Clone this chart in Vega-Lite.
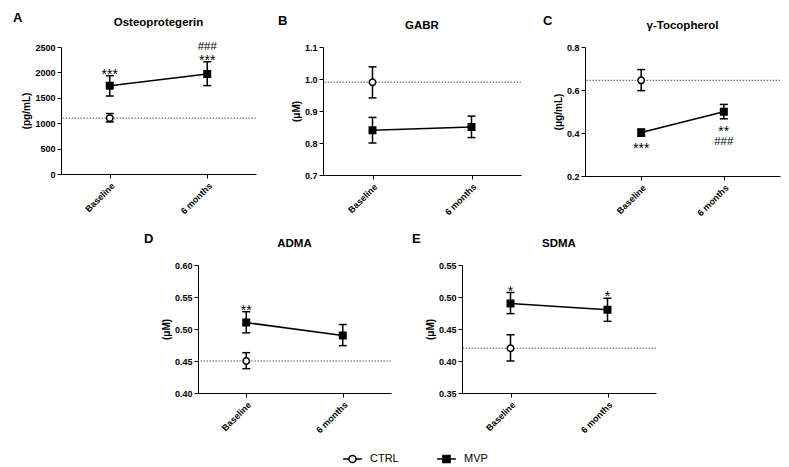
{
  "$schema": "https://vega.github.io/schema/vega-lite/v6.json",
  "padding": {"left": 12, "top": 12, "right": 5, "bottom": 5},
  "background": "white",
  "config": {
    "font": "Liberation Sans",
    "view": {"stroke": null},
    "axis": {"labelFont": "Liberation Sans", "labelFontWeight": "bold", "labelFontSize": 9, "labelColor": "black", "titleFont": "Liberation Sans", "titleFontSize": 10, "titleFontWeight": "bold", "titleColor": "black", "domainColor": "black", "tickColor": "black", "grid": false, "tickSize": 4, "labelPadding": 2, "titlePadding": 3, "labelOverlap": false},
    "axisX": {"labelAngle": -45, "title": null, "labelPadding": 3},
    "title": {"font": "Liberation Sans", "color": "black"}
  },
  "datasets": {
    "pts": [
      {"panel": "A", "group": "CTRL", "time": "Baseline", "mean": 1100, "lo": 1025, "hi": 1190},
      {"panel": "A", "group": "MVP", "time": "Baseline", "mean": 1735, "lo": 1535, "hi": 1935, "above1": "***"},
      {"panel": "A", "group": "MVP", "time": "6 months", "mean": 1970, "lo": 1740, "hi": 2210, "above1": "***", "above2": "###"},
      {"panel": "B", "group": "CTRL", "time": "Baseline", "mean": 0.99, "lo": 0.941, "hi": 1.038},
      {"panel": "B", "group": "MVP", "time": "Baseline", "mean": 0.84, "lo": 0.80, "hi": 0.88},
      {"panel": "B", "group": "MVP", "time": "6 months", "mean": 0.85, "lo": 0.817, "hi": 0.884},
      {"panel": "C", "group": "CTRL", "time": "Baseline", "mean": 0.645, "lo": 0.597, "hi": 0.695},
      {"panel": "C", "group": "MVP", "time": "Baseline", "mean": 0.402, "lo": 0.385, "hi": 0.418, "below1": "***"},
      {"panel": "C", "group": "MVP", "time": "6 months", "mean": 0.499, "lo": 0.466, "hi": 0.533, "below1": "**", "below2": "###"},
      {"panel": "D", "group": "CTRL", "time": "Baseline", "mean": 0.45, "lo": 0.438, "hi": 0.463},
      {"panel": "D", "group": "MVP", "time": "Baseline", "mean": 0.51, "lo": 0.494, "hi": 0.527, "above1": "**"},
      {"panel": "D", "group": "MVP", "time": "6 months", "mean": 0.49, "lo": 0.474, "hi": 0.507},
      {"panel": "E", "group": "CTRL", "time": "Baseline", "mean": 0.42, "lo": 0.40, "hi": 0.441},
      {"panel": "E", "group": "MVP", "time": "Baseline", "mean": 0.49, "lo": 0.474, "hi": 0.507, "above1": "*"},
      {"panel": "E", "group": "MVP", "time": "6 months", "mean": 0.48, "lo": 0.462, "hi": 0.498, "above1": "*"}
    ],
    "refs": [
      {"panel": "A", "value": 1100},
      {"panel": "B", "value": 0.99},
      {"panel": "C", "value": 0.645},
      {"panel": "D", "value": 0.45},
      {"panel": "E", "value": 0.42}
    ]
  },
  "resolve": {"scale": {"x": "independent", "y": "independent", "shape": "shared", "fill": "shared", "stroke": "shared"}},
  "center": false,
  "spacing": 14,
  "vconcat": [
    {
      "resolve": {"scale": {"x": "independent", "y": "independent", "shape": "shared", "fill": "shared", "stroke": "shared"}},
      "spacing": 20,
      "hconcat": [
        {
          "resolve": {"scale": {"shape": "shared", "fill": "shared", "stroke": "shared"}},
          "title": {"text": "A", "anchor": "start", "fontSize": 13, "fontWeight": "bold", "dx": -9, "dy": 12},
          "vconcat": [{
            "width": 195, "height": 127,
            "title": {"text": "Osteoprotegerin", "fontSize": 11.5, "fontWeight": "bold", "offset": 12},
            "layer": [
              {"data": {"name": "refs"}, "transform": [{"filter": "datum.panel === 'A'"}], "mark": {"type": "rule", "strokeDash": [1.5, 1.5], "color": "#555", "strokeWidth": 1}, "encoding": {"y": {"field": "value", "type": "quantitative", "title": "(pg/mL)", "scale": {"domain": [0, 2500], "nice": false, "zero": false}, "axis": {"values": [0, 500, 1000, 1500, 2000, 2500], "format": "d"}}}},
              {"data": {"name": "pts"}, "transform": [{"filter": "datum.panel === 'A'"}], "mark": {"type": "rule", "color": "black", "strokeWidth": 1.5}, "encoding": {"x": {"field": "time", "type": "ordinal", "sort": ["Baseline", "6 months"], "scale": {"type": "point", "padding": 0.5}}, "y": {"field": "lo", "type": "quantitative", "title": "(pg/mL)", "scale": {"domain": [0, 2500], "nice": false, "zero": false}, "axis": {"values": [0, 500, 1000, 1500, 2000, 2500], "format": "d"}}, "y2": {"field": "hi"}}},
              {"data": {"name": "pts"}, "transform": [{"filter": "datum.panel === 'A'"}], "mark": {"type": "tick", "color": "black", "thickness": 1.5, "size": 8, "opacity": 1}, "encoding": {"x": {"field": "time", "type": "ordinal", "sort": ["Baseline", "6 months"]}, "y": {"field": "lo", "type": "quantitative", "title": "(pg/mL)", "axis": {"values": [0, 500, 1000, 1500, 2000, 2500], "format": "d"}}}},
              {"data": {"name": "pts"}, "transform": [{"filter": "datum.panel === 'A'"}], "mark": {"type": "tick", "color": "black", "thickness": 1.5, "size": 8, "opacity": 1}, "encoding": {"x": {"field": "time", "type": "ordinal", "sort": ["Baseline", "6 months"]}, "y": {"field": "hi", "type": "quantitative", "title": "(pg/mL)", "axis": {"values": [0, 500, 1000, 1500, 2000, 2500], "format": "d"}}}},
              {"data": {"name": "pts"}, "transform": [{"filter": "datum.panel === 'A' && datum.group === 'MVP'"}], "mark": {"type": "line", "color": "black", "strokeWidth": 1.5}, "encoding": {"x": {"field": "time", "type": "ordinal", "sort": ["Baseline", "6 months"]}, "y": {"field": "mean", "type": "quantitative", "title": "(pg/mL)", "axis": {"values": [0, 500, 1000, 1500, 2000, 2500], "format": "d"}}}},
              {"data": {"name": "pts"}, "transform": [{"filter": "datum.panel === 'A'"}], "mark": {"type": "point", "filled": true, "stroke": "black", "strokeWidth": 1.5, "size": 42, "opacity": 1}, "encoding": {"x": {"field": "time", "type": "ordinal", "sort": ["Baseline", "6 months"]}, "y": {"field": "mean", "type": "quantitative", "title": "(pg/mL)", "axis": {"values": [0, 500, 1000, 1500, 2000, 2500], "format": "d"}}, "shape": {"condition": {"test": "datum.group === 'CTRL'", "value": "circle"}, "value": "square"}, "fill": {"condition": {"test": "datum.group === 'CTRL'", "value": "white"}, "value": "black"}}},
              {"data": {"name": "pts"}, "transform": [{"filter": "datum.panel === 'A' && datum.above1"}], "mark": {"type": "text", "fontSize": 14, "baseline": "bottom", "dy": 6, "color": "black"}, "encoding": {"x": {"field": "time", "type": "ordinal", "sort": ["Baseline", "6 months"]}, "y": {"field": "hi", "type": "quantitative", "title": "(pg/mL)", "axis": {"values": [0, 500, 1000, 1500, 2000, 2500], "format": "d"}}, "text": {"field": "above1"}}},
              {"data": {"name": "pts"}, "transform": [{"filter": "datum.panel === 'A' && datum.above2"}], "mark": {"type": "text", "fontSize": 11.5, "baseline": "bottom", "dy": -10, "color": "black"}, "encoding": {"x": {"field": "time", "type": "ordinal", "sort": ["Baseline", "6 months"]}, "y": {"field": "hi", "type": "quantitative", "title": "(pg/mL)", "axis": {"values": [0, 500, 1000, 1500, 2000, 2500], "format": "d"}}, "text": {"field": "above2"}}},
              {"data": {"name": "pts"}, "transform": [{"filter": "datum.panel === 'legend'"}], "mark": {"type": "point", "filled": false, "color": "black", "strokeWidth": 1.5, "opacity": 1}, "encoding": {"x": {"field": "time", "type": "ordinal", "sort": ["Baseline", "6 months"]}, "y": {"field": "mean", "type": "quantitative", "title": "(pg/mL)", "axis": {"values": [0, 500, 1000, 1500, 2000, 2500], "format": "d"}}, "shape": {"field": "group", "type": "nominal", "scale": {"domain": ["CTRL", "MVP"], "range": ["M-2.1,0H-0.8M0.8,0H2.1M0.8,0A0.8,0.8,0,1,1,-0.8,0A0.8,0.8,0,1,1,0.8,0Z", "M-2.1,0H2.1M-0.8,-0.8H0.8V0.8H-0.8Z"]}, "legend": {"title": null, "orient": "none", "legendX": 286, "legendY": 406, "direction": "horizontal", "labelFontSize": 11, "labelFont": "Liberation Sans", "labelColor": "black", "symbolStrokeWidth": 1.5, "symbolSize": 80, "labelOffset": 12, "columnPadding": 35}}, "fill": {"field": "group", "type": "nominal", "scale": {"domain": ["CTRL", "MVP"], "range": ["white", "black"]}, "legend": {"title": null, "orient": "none", "legendX": 286, "legendY": 406, "direction": "horizontal", "labelFontSize": 11, "labelFont": "Liberation Sans", "labelColor": "black", "symbolStrokeWidth": 1.5, "symbolSize": 80, "labelOffset": 12, "columnPadding": 35}}, "stroke": {"field": "group", "type": "nominal", "scale": {"domain": ["CTRL", "MVP"], "range": ["black", "black"]}, "legend": {"title": null, "orient": "none", "legendX": 286, "legendY": 406, "direction": "horizontal", "labelFontSize": 11, "labelFont": "Liberation Sans", "labelColor": "black", "symbolStrokeWidth": 1.5, "symbolSize": 80, "labelOffset": 12, "columnPadding": 35}}}}
            ]
          }]
        },
        {
          "title": {"text": "B", "anchor": "start", "fontSize": 13, "fontWeight": "bold", "dx": -13.5, "dy": 12},
          "vconcat": [{
            "width": 198, "height": 128,
            "title": {"text": "GABR", "fontSize": 11.5, "fontWeight": "bold", "offset": 12},
            "layer": [
              {"data": {"name": "refs"}, "transform": [{"filter": "datum.panel === 'B'"}], "mark": {"type": "rule", "strokeDash": [1.5, 1.5], "color": "#555", "strokeWidth": 1}, "encoding": {"y": {"field": "value", "type": "quantitative", "title": "(μM)", "scale": {"domain": [0.7, 1.1], "nice": false, "zero": false}, "axis": {"values": [0.7, 0.8, 0.9, 1.0, 1.1], "format": ".1f"}}}},
              {"data": {"name": "pts"}, "transform": [{"filter": "datum.panel === 'B'"}], "mark": {"type": "rule", "color": "black", "strokeWidth": 1.5}, "encoding": {"x": {"field": "time", "type": "ordinal", "sort": ["Baseline", "6 months"], "scale": {"type": "point", "padding": 0.5}}, "y": {"field": "lo", "type": "quantitative", "title": "(μM)", "scale": {"domain": [0.7, 1.1], "nice": false, "zero": false}, "axis": {"values": [0.7, 0.8, 0.9, 1.0, 1.1], "format": ".1f"}}, "y2": {"field": "hi"}}},
              {"data": {"name": "pts"}, "transform": [{"filter": "datum.panel === 'B'"}], "mark": {"type": "tick", "color": "black", "thickness": 1.5, "size": 8, "opacity": 1}, "encoding": {"x": {"field": "time", "type": "ordinal", "sort": ["Baseline", "6 months"]}, "y": {"field": "lo", "type": "quantitative", "title": "(μM)", "axis": {"values": [0.7, 0.8, 0.9, 1.0, 1.1], "format": ".1f"}}}},
              {"data": {"name": "pts"}, "transform": [{"filter": "datum.panel === 'B'"}], "mark": {"type": "tick", "color": "black", "thickness": 1.5, "size": 8, "opacity": 1}, "encoding": {"x": {"field": "time", "type": "ordinal", "sort": ["Baseline", "6 months"]}, "y": {"field": "hi", "type": "quantitative", "title": "(μM)", "axis": {"values": [0.7, 0.8, 0.9, 1.0, 1.1], "format": ".1f"}}}},
              {"data": {"name": "pts"}, "transform": [{"filter": "datum.panel === 'B' && datum.group === 'MVP'"}], "mark": {"type": "line", "color": "black", "strokeWidth": 1.5}, "encoding": {"x": {"field": "time", "type": "ordinal", "sort": ["Baseline", "6 months"]}, "y": {"field": "mean", "type": "quantitative", "title": "(μM)", "axis": {"values": [0.7, 0.8, 0.9, 1.0, 1.1], "format": ".1f"}}}},
              {"data": {"name": "pts"}, "transform": [{"filter": "datum.panel === 'B'"}], "mark": {"type": "point", "filled": true, "stroke": "black", "strokeWidth": 1.5, "size": 42, "opacity": 1}, "encoding": {"x": {"field": "time", "type": "ordinal", "sort": ["Baseline", "6 months"]}, "y": {"field": "mean", "type": "quantitative", "title": "(μM)", "axis": {"values": [0.7, 0.8, 0.9, 1.0, 1.1], "format": ".1f"}}, "shape": {"condition": {"test": "datum.group === 'CTRL'", "value": "circle"}, "value": "square"}, "fill": {"condition": {"test": "datum.group === 'CTRL'", "value": "white"}, "value": "black"}}}
            ]
          }]
        },
        {
          "title": {"text": "C", "anchor": "start", "fontSize": 13, "fontWeight": "bold", "dx": -10.5, "dy": 12},
          "vconcat": [{
            "width": 195, "height": 129,
            "title": {"text": "γ-Tocopherol", "fontSize": 11.5, "fontWeight": "bold", "offset": 12},
            "layer": [
              {"data": {"name": "refs"}, "transform": [{"filter": "datum.panel === 'C'"}], "mark": {"type": "rule", "strokeDash": [1.5, 1.5], "color": "#555", "strokeWidth": 1}, "encoding": {"y": {"field": "value", "type": "quantitative", "title": "(μg/mL)", "scale": {"domain": [0.2, 0.8], "nice": false, "zero": false}, "axis": {"values": [0.2, 0.4, 0.6, 0.8], "format": ".1f"}}}},
              {"data": {"name": "pts"}, "transform": [{"filter": "datum.panel === 'C'"}], "mark": {"type": "rule", "color": "black", "strokeWidth": 1.5}, "encoding": {"x": {"field": "time", "type": "ordinal", "sort": ["Baseline", "6 months"], "scale": {"type": "point", "padding": 0.68}}, "y": {"field": "lo", "type": "quantitative", "title": "(μg/mL)", "scale": {"domain": [0.2, 0.8], "nice": false, "zero": false}, "axis": {"values": [0.2, 0.4, 0.6, 0.8], "format": ".1f"}}, "y2": {"field": "hi"}}},
              {"data": {"name": "pts"}, "transform": [{"filter": "datum.panel === 'C'"}], "mark": {"type": "tick", "color": "black", "thickness": 1.5, "size": 8, "opacity": 1}, "encoding": {"x": {"field": "time", "type": "ordinal", "sort": ["Baseline", "6 months"]}, "y": {"field": "lo", "type": "quantitative", "title": "(μg/mL)", "axis": {"values": [0.2, 0.4, 0.6, 0.8], "format": ".1f"}}}},
              {"data": {"name": "pts"}, "transform": [{"filter": "datum.panel === 'C'"}], "mark": {"type": "tick", "color": "black", "thickness": 1.5, "size": 8, "opacity": 1}, "encoding": {"x": {"field": "time", "type": "ordinal", "sort": ["Baseline", "6 months"]}, "y": {"field": "hi", "type": "quantitative", "title": "(μg/mL)", "axis": {"values": [0.2, 0.4, 0.6, 0.8], "format": ".1f"}}}},
              {"data": {"name": "pts"}, "transform": [{"filter": "datum.panel === 'C' && datum.group === 'MVP'"}], "mark": {"type": "line", "color": "black", "strokeWidth": 1.5}, "encoding": {"x": {"field": "time", "type": "ordinal", "sort": ["Baseline", "6 months"]}, "y": {"field": "mean", "type": "quantitative", "title": "(μg/mL)", "axis": {"values": [0.2, 0.4, 0.6, 0.8], "format": ".1f"}}}},
              {"data": {"name": "pts"}, "transform": [{"filter": "datum.panel === 'C'"}], "mark": {"type": "point", "filled": true, "stroke": "black", "strokeWidth": 1.5, "size": 42, "opacity": 1}, "encoding": {"x": {"field": "time", "type": "ordinal", "sort": ["Baseline", "6 months"]}, "y": {"field": "mean", "type": "quantitative", "title": "(μg/mL)", "axis": {"values": [0.2, 0.4, 0.6, 0.8], "format": ".1f"}}, "shape": {"condition": {"test": "datum.group === 'CTRL'", "value": "circle"}, "value": "square"}, "fill": {"condition": {"test": "datum.group === 'CTRL'", "value": "white"}, "value": "black"}}},
              {"data": {"name": "pts"}, "transform": [{"filter": "datum.panel === 'C' && datum.below1"}], "mark": {"type": "text", "fontSize": 14, "baseline": "top", "dy": 6, "color": "black"}, "encoding": {"x": {"field": "time", "type": "ordinal", "sort": ["Baseline", "6 months"]}, "y": {"field": "lo", "type": "quantitative", "title": "(μg/mL)", "axis": {"values": [0.2, 0.4, 0.6, 0.8], "format": ".1f"}}, "text": {"field": "below1"}}},
              {"data": {"name": "pts"}, "transform": [{"filter": "datum.panel === 'C' && datum.below2"}], "mark": {"type": "text", "fontSize": 11.5, "baseline": "top", "dy": 17, "color": "black"}, "encoding": {"x": {"field": "time", "type": "ordinal", "sort": ["Baseline", "6 months"]}, "y": {"field": "lo", "type": "quantitative", "title": "(μg/mL)", "axis": {"values": [0.2, 0.4, 0.6, 0.8], "format": ".1f"}}, "text": {"field": "below2"}}}
            ]
          }]
        }
      ]
    },
    {
      "resolve": {"scale": {"x": "independent", "y": "independent", "shape": "shared", "fill": "shared", "stroke": "shared"}},
      "spacing": 19,
      "hconcat": [
        {
          "width": 63, "height": 128,
          "data": {"name": "refs"},
          "transform": [{"filter": "datum.panel === 'spacer'"}],
          "mark": "point",
          "encoding": {}
        },
        {
          "title": {"text": "D", "anchor": "start", "fontSize": 13, "fontWeight": "bold", "dx": -17.5, "dy": 12},
          "vconcat": [{
            "width": 193, "height": 128,
            "title": {"text": "ADMA", "fontSize": 11.5, "fontWeight": "bold", "offset": 12},
            "layer": [
              {"data": {"name": "refs"}, "transform": [{"filter": "datum.panel === 'D'"}], "mark": {"type": "rule", "strokeDash": [1.5, 1.5], "color": "#555", "strokeWidth": 1}, "encoding": {"y": {"field": "value", "type": "quantitative", "title": "(μM)", "scale": {"domain": [0.4, 0.6], "nice": false, "zero": false}, "axis": {"values": [0.4, 0.45, 0.5, 0.55, 0.6], "format": ".2f"}}}},
              {"data": {"name": "pts"}, "transform": [{"filter": "datum.panel === 'D'"}], "mark": {"type": "rule", "color": "black", "strokeWidth": 1.5}, "encoding": {"x": {"field": "time", "type": "ordinal", "sort": ["Baseline", "6 months"], "scale": {"type": "point", "padding": 0.5}}, "y": {"field": "lo", "type": "quantitative", "title": "(μM)", "scale": {"domain": [0.4, 0.6], "nice": false, "zero": false}, "axis": {"values": [0.4, 0.45, 0.5, 0.55, 0.6], "format": ".2f"}}, "y2": {"field": "hi"}}},
              {"data": {"name": "pts"}, "transform": [{"filter": "datum.panel === 'D'"}], "mark": {"type": "tick", "color": "black", "thickness": 1.5, "size": 8, "opacity": 1}, "encoding": {"x": {"field": "time", "type": "ordinal", "sort": ["Baseline", "6 months"]}, "y": {"field": "lo", "type": "quantitative", "title": "(μM)", "axis": {"values": [0.4, 0.45, 0.5, 0.55, 0.6], "format": ".2f"}}}},
              {"data": {"name": "pts"}, "transform": [{"filter": "datum.panel === 'D'"}], "mark": {"type": "tick", "color": "black", "thickness": 1.5, "size": 8, "opacity": 1}, "encoding": {"x": {"field": "time", "type": "ordinal", "sort": ["Baseline", "6 months"]}, "y": {"field": "hi", "type": "quantitative", "title": "(μM)", "axis": {"values": [0.4, 0.45, 0.5, 0.55, 0.6], "format": ".2f"}}}},
              {"data": {"name": "pts"}, "transform": [{"filter": "datum.panel === 'D' && datum.group === 'MVP'"}], "mark": {"type": "line", "color": "black", "strokeWidth": 1.5}, "encoding": {"x": {"field": "time", "type": "ordinal", "sort": ["Baseline", "6 months"]}, "y": {"field": "mean", "type": "quantitative", "title": "(μM)", "axis": {"values": [0.4, 0.45, 0.5, 0.55, 0.6], "format": ".2f"}}}},
              {"data": {"name": "pts"}, "transform": [{"filter": "datum.panel === 'D'"}], "mark": {"type": "point", "filled": true, "stroke": "black", "strokeWidth": 1.5, "size": 42, "opacity": 1}, "encoding": {"x": {"field": "time", "type": "ordinal", "sort": ["Baseline", "6 months"]}, "y": {"field": "mean", "type": "quantitative", "title": "(μM)", "axis": {"values": [0.4, 0.45, 0.5, 0.55, 0.6], "format": ".2f"}}, "shape": {"condition": {"test": "datum.group === 'CTRL'", "value": "circle"}, "value": "square"}, "fill": {"condition": {"test": "datum.group === 'CTRL'", "value": "white"}, "value": "black"}}},
              {"data": {"name": "pts"}, "transform": [{"filter": "datum.panel === 'D' && datum.above1"}], "mark": {"type": "text", "fontSize": 14, "baseline": "bottom", "dy": 6, "color": "black"}, "encoding": {"x": {"field": "time", "type": "ordinal", "sort": ["Baseline", "6 months"]}, "y": {"field": "hi", "type": "quantitative", "title": "(μM)", "axis": {"values": [0.4, 0.45, 0.5, 0.55, 0.6], "format": ".2f"}}, "text": {"field": "above1"}}}
            ]
          }]
        },
        {
          "title": {"text": "E", "anchor": "start", "fontSize": 13, "fontWeight": "bold", "dx": -13.5, "dy": 12},
          "vconcat": [{
            "width": 194, "height": 128,
            "title": {"text": "SDMA", "fontSize": 11.5, "fontWeight": "bold", "offset": 12},
            "layer": [
              {"data": {"name": "refs"}, "transform": [{"filter": "datum.panel === 'E'"}], "mark": {"type": "rule", "strokeDash": [1.5, 1.5], "color": "#555", "strokeWidth": 1}, "encoding": {"y": {"field": "value", "type": "quantitative", "title": "(μM)", "scale": {"domain": [0.35, 0.55], "nice": false, "zero": false}, "axis": {"values": [0.35, 0.4, 0.45, 0.5, 0.55], "format": ".2f"}}}},
              {"data": {"name": "pts"}, "transform": [{"filter": "datum.panel === 'E'"}], "mark": {"type": "rule", "color": "black", "strokeWidth": 1.5}, "encoding": {"x": {"field": "time", "type": "ordinal", "sort": ["Baseline", "6 months"], "scale": {"type": "point", "padding": 0.5}}, "y": {"field": "lo", "type": "quantitative", "title": "(μM)", "scale": {"domain": [0.35, 0.55], "nice": false, "zero": false}, "axis": {"values": [0.35, 0.4, 0.45, 0.5, 0.55], "format": ".2f"}}, "y2": {"field": "hi"}}},
              {"data": {"name": "pts"}, "transform": [{"filter": "datum.panel === 'E'"}], "mark": {"type": "tick", "color": "black", "thickness": 1.5, "size": 8, "opacity": 1}, "encoding": {"x": {"field": "time", "type": "ordinal", "sort": ["Baseline", "6 months"]}, "y": {"field": "lo", "type": "quantitative", "title": "(μM)", "axis": {"values": [0.35, 0.4, 0.45, 0.5, 0.55], "format": ".2f"}}}},
              {"data": {"name": "pts"}, "transform": [{"filter": "datum.panel === 'E'"}], "mark": {"type": "tick", "color": "black", "thickness": 1.5, "size": 8, "opacity": 1}, "encoding": {"x": {"field": "time", "type": "ordinal", "sort": ["Baseline", "6 months"]}, "y": {"field": "hi", "type": "quantitative", "title": "(μM)", "axis": {"values": [0.35, 0.4, 0.45, 0.5, 0.55], "format": ".2f"}}}},
              {"data": {"name": "pts"}, "transform": [{"filter": "datum.panel === 'E' && datum.group === 'MVP'"}], "mark": {"type": "line", "color": "black", "strokeWidth": 1.5}, "encoding": {"x": {"field": "time", "type": "ordinal", "sort": ["Baseline", "6 months"]}, "y": {"field": "mean", "type": "quantitative", "title": "(μM)", "axis": {"values": [0.35, 0.4, 0.45, 0.5, 0.55], "format": ".2f"}}}},
              {"data": {"name": "pts"}, "transform": [{"filter": "datum.panel === 'E'"}], "mark": {"type": "point", "filled": true, "stroke": "black", "strokeWidth": 1.5, "size": 42, "opacity": 1}, "encoding": {"x": {"field": "time", "type": "ordinal", "sort": ["Baseline", "6 months"]}, "y": {"field": "mean", "type": "quantitative", "title": "(μM)", "axis": {"values": [0.35, 0.4, 0.45, 0.5, 0.55], "format": ".2f"}}, "shape": {"condition": {"test": "datum.group === 'CTRL'", "value": "circle"}, "value": "square"}, "fill": {"condition": {"test": "datum.group === 'CTRL'", "value": "white"}, "value": "black"}}},
              {"data": {"name": "pts"}, "transform": [{"filter": "datum.panel === 'E' && datum.above1"}], "mark": {"type": "text", "fontSize": 14, "baseline": "bottom", "dy": 6, "color": "black"}, "encoding": {"x": {"field": "time", "type": "ordinal", "sort": ["Baseline", "6 months"]}, "y": {"field": "hi", "type": "quantitative", "title": "(μM)", "axis": {"values": [0.35, 0.4, 0.45, 0.5, 0.55], "format": ".2f"}}, "text": {"field": "above1"}}}
            ]
          }]
        }
      ]
    }
  ]
}
